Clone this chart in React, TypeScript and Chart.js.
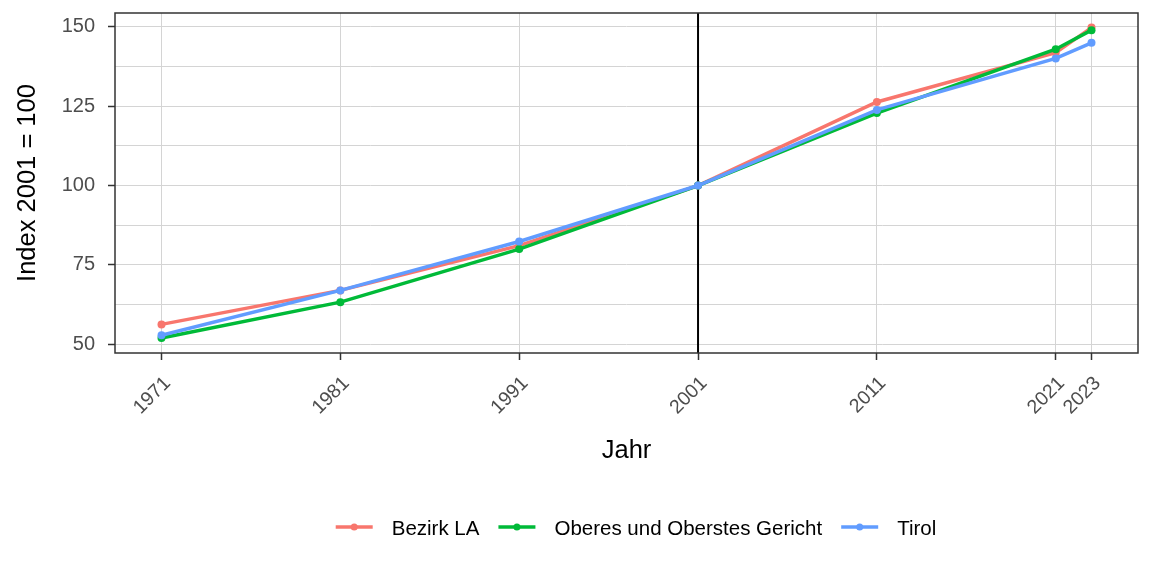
import { useEffect, useRef } from 'react';
import { Chart, registerables } from 'chart.js';

Chart.register(...registerables);

// ---- data ----
const years = [1971, 1981, 1991, 2001, 2011, 2021, 2023];
const bezirkLA = [56.3, 67.0, 81.1, 100, 126.3, 141.8, 149.7];
const oberesGericht = [52.0, 63.3, 80.0, 100, 122.8, 142.9, 148.9];
const tirol = [52.9, 67.0, 82.4, 100, 123.8, 140.0, 144.9];
const seriesNames = ['Bezirk LA', 'Oberes und Oberstes Gericht', 'Tirol'];
const seriesColors = ['#F8766D', '#00BA38', '#619CFF'];
const yMajorTicks = [50, 75, 100, 125, 150];
const yMinorTicks = [62.5, 87.5, 112.5, 137.5];
const referenceYear = 2001;
const xTitle = 'Jahr';
const yTitle = 'Index 2001 = 100';

const FONT = '"Liberation Sans", Arial, sans-serif';
const W = 1152;
const H = 576;

const decoPlugin = {
  id: 'deco',
  beforeDatasetsDraw(chart: any) {
    const { ctx, chartArea, scales } = chart;
    const x = scales.x.getPixelForValue(referenceYear);
    ctx.save();
    ctx.strokeStyle = '#000000';
    ctx.lineWidth = 2;
    ctx.beginPath();
    ctx.moveTo(x, chartArea.top);
    ctx.lineTo(x, chartArea.bottom);
    ctx.stroke();
    ctx.restore();
  },
  afterDraw(chart: any) {
    const { ctx, chartArea } = chart;
    ctx.save();
    // panel border
    ctx.strokeStyle = '#333333';
    ctx.lineWidth = 1.5;
    ctx.strokeRect(chartArea.left, chartArea.top, chartArea.right - chartArea.left, chartArea.bottom - chartArea.top);

    // axis titles
    ctx.fillStyle = '#000000';
    ctx.font = `25.5px ${FONT}`;
    ctx.textAlign = 'center';
    ctx.textBaseline = 'alphabetic';
    ctx.fillText(xTitle, (chartArea.left + chartArea.right) / 2, 458);
    ctx.save();
    ctx.translate(35, (chartArea.top + chartArea.bottom) / 2);
    ctx.rotate(-Math.PI / 2);
    ctx.fillText(yTitle, 0, 0);
    ctx.restore();

    // legend
    ctx.font = `20.5px ${FONT}`;
    const lineLen = 37;
    const gapLineText = 19;
    const gapItems = 19;
    const widths = seriesNames.map((n) => ctx.measureText(n).width);
    let total = 0;
    widths.forEach((w, i) => {
      total += lineLen + gapLineText + w + (i < widths.length - 1 ? gapItems : 0);
    });
    let x = 636 - total / 2;
    const ly = 527;
    seriesNames.forEach((name, i) => {
      ctx.strokeStyle = seriesColors[i];
      ctx.lineWidth = 3.5;
      ctx.beginPath();
      ctx.moveTo(x, ly);
      ctx.lineTo(x + lineLen, ly);
      ctx.stroke();
      ctx.fillStyle = seriesColors[i];
      ctx.beginPath();
      ctx.arc(x + lineLen / 2, ly, 3.5, 0, Math.PI * 2);
      ctx.fill();
      ctx.fillStyle = '#000000';
      ctx.textAlign = 'left';
      ctx.textBaseline = 'alphabetic';
      ctx.fillText(name, x + lineLen + gapLineText, 534.5);
      x += lineLen + gapLineText + widths[i] + gapItems;
    });
    ctx.restore();
  },
};

export default function App() {
  const ref = useRef<HTMLCanvasElement | null>(null);

  useEffect(() => {
    if (!ref.current) return;
    const seriesValues = [bezirkLA, oberesGericht, tirol];
    const chart = new Chart(ref.current, {
      type: 'line',
      data: {
        datasets: seriesValues.map((vals, i) => ({
          label: seriesNames[i],
          data: years.map((x, j) => ({ x, y: vals[j] })),
          borderColor: seriesColors[i],
          backgroundColor: seriesColors[i],
          borderWidth: 3.5,
          pointRadius: 4,
          pointBorderWidth: 0,
          pointBackgroundColor: seriesColors[i],
          fill: false,
          tension: 0,
          order: seriesValues.length - i,
        })),
      },
      options: {
        animation: false,
        responsive: false,
        devicePixelRatio: 1,
        layout: { padding: { top: 13, right: 14, left: 0, bottom: 0 } },
        plugins: {
          legend: { display: false },
          tooltip: { enabled: false },
        },
        scales: {
          x: {
            type: 'linear',
            min: 1968.4,
            max: 2025.6,
            afterBuildTicks: (s: any) => {
              s.ticks = years.map((v) => ({ value: v }));
            },
            afterFit: (s: any) => {
              s.height = H - 353;
              s.paddingLeft = 0;
              s.paddingRight = 0;
            },
            ticks: {
              autoSkip: false,
              maxRotation: 45,
              minRotation: 45,
              padding: 12,
              labelOffset: 6,
              color: '#4d4d4d',
              font: { family: FONT, size: 19.5 },
              callback: (v: any) => String(v),
            },
            grid: {
              color: '#d4d4d4',
              lineWidth: 1,
              tickLength: 7,
              tickColor: '#333333',
              tickWidth: 1.5,
            },
            border: { display: false },
          },
          y: {
            type: 'linear',
            min: 47.3,
            max: 154.3,
            afterBuildTicks: (s: any) => {
              s.ticks = [...yMajorTicks, ...yMinorTicks].sort((a, b) => a - b).map((v) => ({ value: v }));
            },
            afterFit: (s: any) => {
              s.width = 115;
              s.paddingTop = 0;
              s.paddingBottom = 0;
            },
            ticks: {
              autoSkip: false,
              padding: 13,
              color: '#4d4d4d',
              font: { family: FONT, size: 20 },
              callback: (v: any) => (yMajorTicks.includes(v) ? String(v) : ''),
            },
            grid: {
              color: '#d4d4d4',
              lineWidth: 1,
              tickLength: 7,
              tickColor: (c: any) => (c.tick && yMajorTicks.includes(c.tick.value) ? '#333333' : 'rgba(0,0,0,0)'),
              tickWidth: 1.5,
            },
            border: { display: false },
          },
        },
      },
      plugins: [decoPlugin],
    });
    return () => chart.destroy();
  }, []);

  return (
    <div style={{ position: 'absolute', left: 0, top: 0, width: W, height: H, background: '#ffffff' }}>
      <canvas ref={ref} width={W} height={H} style={{ display: 'block', width: W, height: H }} />
    </div>
  );
}
